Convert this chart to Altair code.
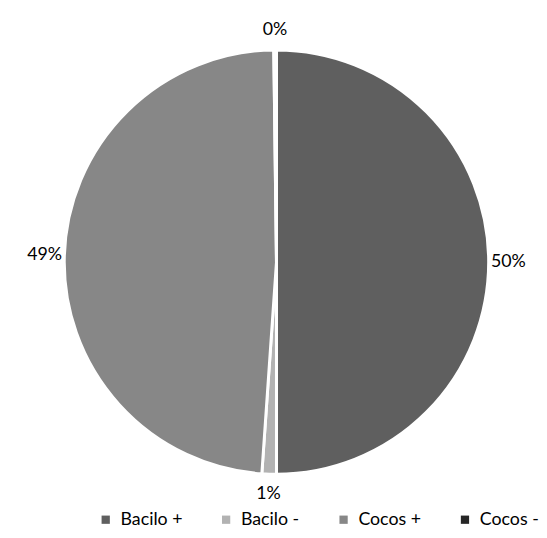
import altair as alt
import pandas as pd

categories = ["Bacilo +", "Bacilo -", "Cocos +", "Cocos -"]
values = [50.0, 1.1, 48.7, 0.2]
labels = ["50%", "1%", "49%", "0%"]
colors = ["#5f5f5f", "#b2b2b2", "#878787", "#262626"]

df = pd.DataFrame({
    "cat": categories,
    "val": values,
    "lab": labels,
    "ord": list(range(len(categories))),
})

FONT = "Lato"

base = alt.Chart(df).encode(
    theta=alt.Theta("val:Q", stack=True),
    order=alt.Order("ord:Q"),
)

pie = base.mark_arc(outerRadius=215, stroke="white", strokeWidth=3).encode(
    x=alt.value(272),
    y=alt.value(254),
    color=alt.Color(
        "cat:N",
        scale=alt.Scale(domain=categories, range=colors),
        sort=categories,
        legend=alt.Legend(
            title=None,
            orient="none",
            direction="horizontal",
            legendX=90,
            legendY=506,
            symbolType="square",
            symbolSize=70,
            symbolStrokeWidth=0,
            labelFont=FONT,
            labelFontSize=18,
            labelColor="#000000",
            columnPadding=35,
            symbolOffset=0,
            labelOffset=6,
        ),
    ),
)

text = base.mark_text(radius=235, font=FONT, fontSize=18, color="#000000").encode(
    x=alt.value(272),
    y=alt.value(254),
    text="lab:N",
)

chart = (pie + text).properties(
    width=500, height=500, padding=0,
).configure_view(stroke=None)

chart.save("out.html", embed_options={"renderer": "svg", "actions": False})
